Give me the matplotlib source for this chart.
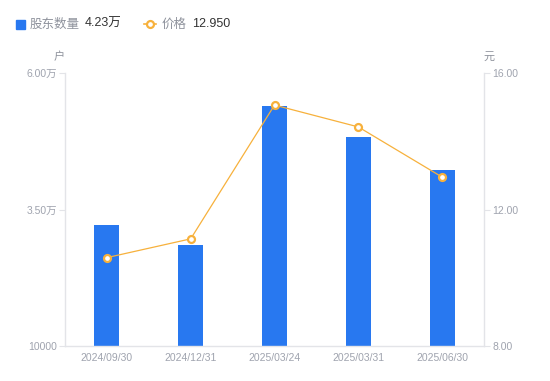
import numpy as np
import matplotlib
matplotlib.use('Agg')
import matplotlib.pyplot as plt
from matplotlib.lines import Line2D
from matplotlib.patches import Rectangle

plt.rcParams['font.family'] = ['Liberation Sans', 'Noto Sans CJK SC', 'DejaVu Sans']

# data
dates = ['2024/09/30', '2024/12/31', '2025/03/24', '2025/03/31', '2025/06/30']
holders = [32200, 28500, 53900, 48300, 42300]   # 股东数量 (户)
price = [10.59, 11.14, 15.06, 14.42, 12.95]     # 价格 (元)
left_ticks = [10000, 35000, 60000]
left_labels = ['10000', '3.50万', '6.00万']
right_ticks = [8, 12, 16]
right_labels = ['8.00', '12.00', '16.00']

bar_color = '#2878f0'
line_color = '#f7b13c'
axis_color = '#e3e4e8'
label_color = '#9fa3ae'
cjk = ['Noto Sans CJK SC', 'DejaVu Sans']

fig = plt.figure(figsize=(5.5, 3.81), dpi=100)
ax = fig.add_axes([65/550, 35/381, (484-65)/550, (346-73)/381])
x = np.arange(len(dates))
ax.bar(x, holders, width=0.3, color=bar_color, zorder=2)
ax.set_xlim(-0.5, len(dates) - 0.5)
ax.set_ylim(10000, 60000)
ax.set_yticks(left_ticks)
ax.set_yticklabels(left_labels)
ax.set_xticks(x)
ax.set_xticklabels(dates)

ax2 = ax.twinx()
ax2.plot(x, price, color=line_color, lw=0.9, marker='o', ms=5,
         mfc='white', mec=line_color, mew=1.6, zorder=3)
ax2.set_ylim(8, 16)
ax2.set_yticks(right_ticks)
ax2.set_yticklabels(right_labels)

for a in (ax, ax2):
    for s in a.spines.values():
        s.set_visible(False)
ax.spines['left'].set_visible(True)
ax.spines['bottom'].set_visible(True)
ax2.spines['right'].set_visible(True)
for s in (ax.spines['left'], ax.spines['bottom'], ax2.spines['right']):
    s.set_color(axis_color)
    s.set_linewidth(1)

ax.tick_params(axis='y', colors=axis_color, labelcolor=label_color, labelsize=7.5, length=4, pad=2)
ax.tick_params(axis='x', length=0, labelcolor=label_color, labelsize=7.5, pad=5)
ax2.tick_params(axis='y', colors=axis_color, labelcolor=label_color, labelsize=7.5, length=4, pad=2)

# unit labels
fig.text(59/550, 1 - 57/381, '户', color='#8e929c', fontsize=8, ha='center', va='center', family=cjk)
fig.text(489/550, 1 - 57/381, '元', color='#8e929c', fontsize=8, ha='center', va='center', family=cjk)

# legend row
fig.patches.append(Rectangle((16/550, 1 - 29/381), 9/550, 9/381, transform=fig.transFigure,
                             color=bar_color, figure=fig))
fig.text(30/550, 1 - 24/381, '股东数量', color='#8e929c', fontsize=9, va='center', family=cjk)
fig.text(85/550, 1 - 24/381, '4.23万', color='#333333', fontsize=9, va='center')
fig.lines.append(Line2D([144/550, 156/550], [1 - 24/381, 1 - 24/381], transform=fig.transFigure,
                        color=line_color, lw=1.2))
fig.lines.append(Line2D([150/550], [1 - 24/381], transform=fig.transFigure, color=line_color,
                        marker='o', ms=5, mfc='white', mec=line_color, mew=1.6, ls='none'))
fig.text(162/550, 1 - 24/381, '价格', color='#8e929c', fontsize=9, va='center', family=cjk)
fig.text(192/550, 1 - 24/381, '12.950', color='#333333', fontsize=9, va='center')

fig.savefig('out.png', dpi=100)
